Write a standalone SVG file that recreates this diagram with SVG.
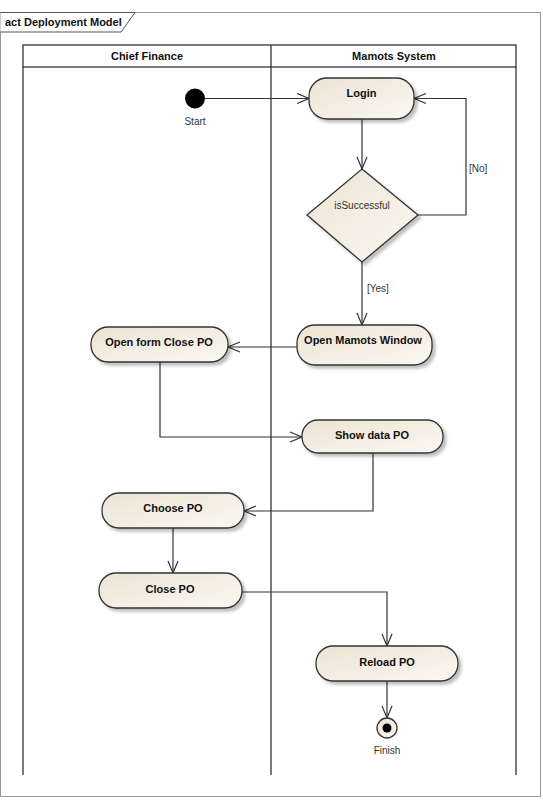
<svg xmlns="http://www.w3.org/2000/svg" width="543" height="800" viewBox="0 0 543 800">
<style>
.lane{fill:none;stroke:#333;stroke-width:1.3}
.node{stroke:#333;stroke-width:1.3;fill:url(#g);filter:url(#sh)}
.t{font-family:"Liberation Sans",Arial,sans-serif;font-size:11px;font-weight:bold;fill:#111;text-anchor:middle}
.l{font-family:"Liberation Sans",Arial,sans-serif;font-size:10px;fill:#333;text-anchor:middle}
.c{fill:none;stroke:#333;stroke-width:1.2}
</style>
<defs>
<linearGradient id="g" x1="0" y1="0" x2="1" y2="1">
<stop offset="0" stop-color="#ece3d4"/>
<stop offset="1" stop-color="#fbf8f2"/>
</linearGradient>
<filter id="sh" x="-20%" y="-20%" width="140%" height="160%">
<feDropShadow dx="3" dy="3" stdDeviation="1.5" flood-color="#000" flood-opacity="0.25"/>
</filter>
<marker id="a" viewBox="0 0 14 12" refX="13" refY="6" markerWidth="14" markerHeight="12" markerUnits="userSpaceOnUse" orient="auto">
<path d="M1,1 L13,6 L1,11" fill="none" stroke="#333" stroke-width="1.2"/>
</marker>
</defs>
<rect width="543" height="800" fill="#fff"/>
<g id="frame">
<rect x="0.5" y="12.5" width="540" height="784" fill="none" stroke="#999" stroke-width="1"/>
<path d="M0.5,12.5 H135 L121,32 H0.5" fill="#fff" stroke="#555" stroke-width="1"/>
<text x="5" y="26" class="t" style="text-anchor:start">act Deployment Model</text>
</g>
<g id="lanes">
<rect x="23" y="45" width="493" height="22" class="lane"/>
<line x1="23" y1="67" x2="23" y2="775" class="lane"/>
<line x1="271" y1="45" x2="271" y2="775" class="lane"/>
<line x1="516" y1="67" x2="516" y2="775" class="lane"/>
<text x="147" y="60" class="t">Chief Finance</text>
<text x="394" y="60" class="t">Mamots System</text>
</g>
<g id="connectors">
<path d="M205,98.5 H309" class="c" marker-end="url(#a)"/>
<path d="M362,119 V169" class="c" marker-end="url(#a)"/>
<path d="M418,215 H466 V98.5 H414" class="c" marker-end="url(#a)"/>
<path d="M362,262 V325" class="c" marker-end="url(#a)"/>
<path d="M297,347 H228" class="c" marker-end="url(#a)"/>
<path d="M160,362 V437 H302" class="c" marker-end="url(#a)"/>
<path d="M373,453 V511 H244" class="c" marker-end="url(#a)"/>
<path d="M173,528 V573" class="c" marker-end="url(#a)"/>
<path d="M242,592 H387 V646" class="c" marker-end="url(#a)"/>
<path d="M387,681 V718" class="c" marker-end="url(#a)"/>
<text x="469" y="172" class="l" style="text-anchor:start">[No]</text>
<text x="367" y="292" class="l" style="text-anchor:start">[Yes]</text>
</g>
<g id="start">
<circle cx="195" cy="98.5" r="10" fill="#000"/>
<text x="195" y="125" class="l">Start</text>
</g>
<g id="login">
<rect x="309" y="78" width="105" height="41" rx="18" class="node"/>
<text x="361.5" y="97" class="t">Login</text>
</g>
<g id="isSuccessful">
<path d="M362,169 L418,215 L362,262 L307,215 Z" class="node"/>
<text x="362" y="209" class="l">isSuccessful</text>
</g>
<g id="openMamotsWindow">
<rect x="297" y="325" width="135" height="40" rx="18" class="node"/>
<text x="363" y="344" class="t">Open Mamots Window</text>
</g>
<g id="openFormClosePO">
<rect x="91" y="327" width="137" height="35" rx="17" class="node"/>
<text x="159" y="346" class="t">Open form Close PO</text>
</g>
<g id="showDataPO">
<rect x="302" y="420" width="141" height="33" rx="16" class="node"/>
<text x="372" y="439" class="t">Show data PO</text>
</g>
<g id="choosePO">
<rect x="102" y="493" width="142" height="35" rx="17" class="node"/>
<text x="173" y="512" class="t">Choose PO</text>
</g>
<g id="closePO">
<rect x="99" y="573" width="143" height="35" rx="17" class="node"/>
<text x="170" y="593" class="t">Close PO</text>
</g>
<g id="reloadPO">
<rect x="316" y="646" width="142" height="35" rx="17" class="node"/>
<text x="387" y="666" class="t">Reload PO</text>
</g>
<g id="finish">
<circle cx="387" cy="728" r="10" fill="url(#g)" stroke="#333" stroke-width="1.3"/>
<circle cx="387" cy="728" r="4.5" fill="#000"/>
<text x="387" y="754" class="l">Finish</text>
</g>
</svg>
